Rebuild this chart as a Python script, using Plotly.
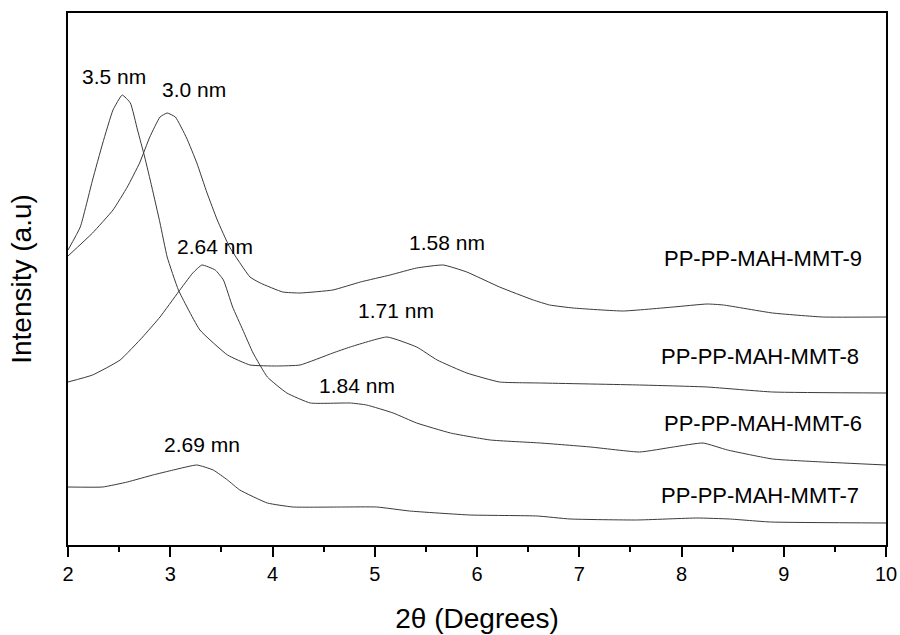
import plotly.graph_objects as go

# 2-theta (degrees) and intensity (a.u.)
x_mmt9 = [2.00, 2.24, 2.44, 2.58, 2.70, 2.80, 2.90, 2.97, 3.05, 3.16, 3.26, 3.36, 3.46, 3.58, 3.78, 3.88,
          4.10, 4.27, 4.59, 4.86, 5.15, 5.41, 5.67, 5.90, 6.22, 6.55, 6.71, 6.94, 7.43, 7.92, 8.25, 8.41,
          8.89, 9.38, 10.0]
y_mmt9 = [289, 312, 335, 358, 382, 408, 428, 432, 428, 407, 382, 352, 325, 298, 268, 262,
          253, 252, 255, 263, 270, 277, 280, 273, 258, 245, 240, 237, 234, 238, 241, 240,
          232, 228, 228]

x_mmt8 = [2.00, 2.12, 2.24, 2.34, 2.44, 2.53, 2.61, 2.68, 2.75, 2.82, 2.90, 2.97, 3.08, 3.29, 3.56, 3.78,
          4.04, 4.27, 4.59, 4.76, 5.12, 5.41, 5.61, 5.90, 6.22, 6.62, 7.59, 8.25, 8.89, 10.0]
y_mmt8 = [295, 318, 365, 402, 435, 450, 442, 415, 388, 358, 322, 288, 255, 215, 190, 180,
          179, 180, 192, 198, 208, 198, 185, 172, 163, 162, 160, 158, 153, 152]

x_mmt6 = [2.00, 2.24, 2.51, 2.73, 2.90, 3.08, 3.22, 3.31, 3.44, 3.52, 3.61, 3.71, 3.81, 3.95, 4.14, 4.37,
          4.76, 4.92, 5.18, 5.41, 5.74, 6.13, 6.62, 7.11, 7.59, 7.92, 8.21, 8.45, 8.89, 9.38, 10.0]
y_mmt6 = [163, 170, 185, 208, 228, 253, 272, 280, 275, 265, 238, 215, 192, 168, 152, 142,
          142, 140, 132, 122, 112, 105, 102, 98, 93, 98, 102, 95, 86, 83, 80]

x_mmt7 = [2.00, 2.34, 2.58, 2.83, 3.03, 3.26, 3.42, 3.56, 3.68, 3.95, 4.20, 4.69, 5.02, 5.34, 5.93, 6.59,
          6.91, 7.56, 8.15, 8.47, 8.87, 10.0]
y_mmt7 = [58, 58, 63, 70, 75, 80, 75, 65, 55, 42, 38, 38, 38, 34, 30, 29,
          26, 25, 27, 26, 23, 22]

series = [
    ("PP-PP-MAH-MMT-9", x_mmt9, y_mmt9),
    ("PP-PP-MAH-MMT-8", x_mmt8, y_mmt8),
    ("PP-PP-MAH-MMT-6", x_mmt6, y_mmt6),
    ("PP-PP-MAH-MMT-7", x_mmt7, y_mmt7),
]

# peak labels: text, x (deg), y (a.u.)
peak_text = ["3.5 nm", "3.0 nm", "2.64 nm", "1.58 nm", "1.71 nm", "1.84 nm", "2.69 mn"]
peak_x = [2.45, 3.23, 3.44, 5.71, 5.21, 4.83, 3.31]
peak_y = [469, 456, 299, 303, 235, 160, 101]

# series labels
name_x = [8.80, 8.77, 8.80, 8.77]
name_y = [287, 189, 122, 50]

fig = go.Figure()
for name, xs, ys in series:
    fig.add_trace(go.Scatter(x=xs, y=ys, mode="lines", name=name,
                             line=dict(color="#3a3a3a", width=1, shape="spline", smoothing=0.4)))

font_family = "Liberation Sans, Arial, sans-serif"
annotations = []
for t, xv, yv in zip(peak_text, peak_x, peak_y):
    annotations.append(dict(x=xv, y=yv, text=t, showarrow=False, xref="x", yref="y",
                            font=dict(family=font_family, size=21, color="black")))
for (name, _, _), xv, yv in zip(series, name_x, name_y):
    annotations.append(dict(x=xv, y=yv, text=name, showarrow=False, xref="x", yref="y",
                            font=dict(family=font_family, size=22, color="black")))

fig.update_layout(
    width=900, height=635,
    margin=dict(l=68, r=14, t=13, b=90),
    paper_bgcolor="white", plot_bgcolor="white",
    showlegend=False,
    font=dict(family=font_family, color="black"),
    annotations=annotations,
    xaxis=dict(range=[2, 10], dtick=1, tick0=2, ticks="outside", ticklen=10, tickwidth=1.5,
               tickcolor="black", showline=True, linecolor="black", linewidth=1.5, mirror=True,
               showgrid=False, zeroline=False, automargin=False, ticklabeloverflow="allow",
               tickfont=dict(size=20, family=font_family),
               minor=dict(dtick=0.5, ticks="outside", ticklen=5, tickwidth=1.5, tickcolor="black"),
               title=dict(text="2\u03b8 (Degrees)", font=dict(size=28, family=font_family), standoff=25)),
    yaxis=dict(range=[0, 532], showticklabels=False, ticks="", showline=True, linecolor="black",
               linewidth=1.5, mirror=True, showgrid=False, zeroline=False, automargin=False,
               title=dict(text="Intensity (a.u)", font=dict(size=28, family=font_family), standoff=26)),
)

fig.write_html("out.html", config={"displayModeBar": False},
               post_script="document.body.style.margin='0';")
